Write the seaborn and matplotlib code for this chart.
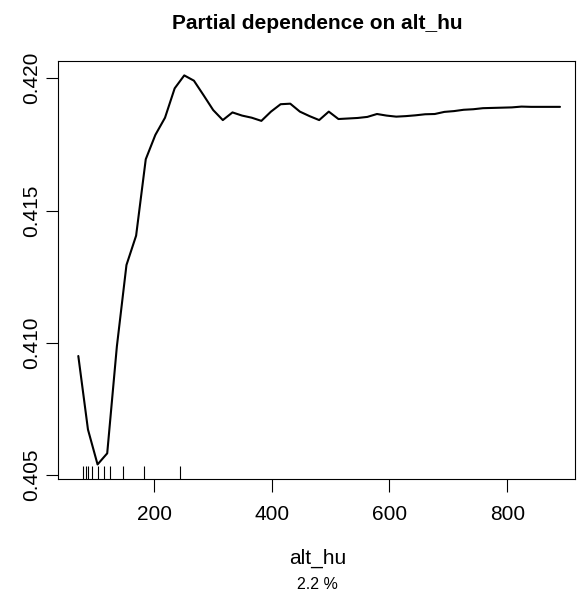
import matplotlib
matplotlib.use("Agg")
import matplotlib.pyplot as plt
import seaborn as sns
import pandas as pd

# ---- data ----
alt_hu = [71.4, 87.8, 104.1, 120.5, 136.9, 153.2, 169.6, 186.0, 202.3, 218.7,
          235.1, 251.4, 267.8, 284.2, 300.5, 316.9, 333.3, 349.6, 366.0, 382.4,
          398.7, 415.1, 431.5, 447.8, 464.2, 480.6, 496.9, 513.3, 529.7, 546.0,
          562.4, 578.8, 595.1, 611.5, 627.9, 644.2, 660.6, 677.0, 693.3, 709.7,
          726.1, 742.4, 758.8, 775.2, 791.5, 807.9, 824.3, 840.6, 857.0, 873.4,
          889.7]
partial_dep = [0.40950, 0.40672, 0.40540, 0.40582, 0.40986, 0.41294, 0.41405, 0.41694, 0.41786, 0.41851,
               0.41962, 0.42011, 0.41991, 0.41936, 0.41880, 0.41842, 0.41871, 0.41859, 0.41851, 0.41839,
               0.41874, 0.41902, 0.41904, 0.41874, 0.41857, 0.41842, 0.41874, 0.41846, 0.41848, 0.41850,
               0.41854, 0.41865, 0.41859, 0.41855, 0.41857, 0.41860, 0.41864, 0.41865, 0.41873, 0.41876,
               0.41881, 0.41883, 0.41887, 0.41888, 0.41889, 0.41890, 0.41893, 0.41892, 0.41892, 0.41892,
               0.41892]
rug_deciles = [80.2, 84.4, 87.8, 94.6, 104.8, 114.2, 125.2, 148.1, 183.5, 245.0]
x_ticks = [200, 400, 600, 800]
y_ticks = [0.405, 0.410, 0.415, 0.420]
y_tick_labels = ["0.405", "0.410", "0.415", "0.420"]
title = "Partial dependence on alt_hu"
x_label = "alt_hu"
subtitle = "2.2 %"

df = pd.DataFrame({"x": alt_hu, "y": partial_dep})

sns.set_style("white")
plt.rcParams["font.family"] = ["Liberation Sans", "DejaVu Sans"]
plt.rcParams["text.color"] = "black"

fig = plt.figure(figsize=(5.87, 5.95), dpi=100)
ax = fig.add_axes([58 / 587, 1 - 479 / 595, (575 - 58) / 587, (479 - 61) / 595])

sns.lineplot(data=df, x="x", y="y", color="black", linewidth=1.5,
             estimator=None, ax=ax)
sns.rugplot(x=rug_deciles, height=0.03, color="black", linewidth=0.8, ax=ax)

ax.set_xlim(36.9, 915.2)
ax.set_ylim(0.404849, 0.420654)
ax.set_xticks(x_ticks)
ax.set_xticklabels([str(t) for t in x_ticks])
ax.set_yticks(y_ticks)
ax.set_yticklabels(y_tick_labels, rotation=90, va="center")
ax.set_xlabel("")
ax.set_ylabel("")

for s in ax.spines.values():
    s.set_visible(True)
    s.set_color("black")
    s.set_linewidth(0.8)

ax.tick_params(axis="both", which="both", direction="out", length=9, width=0.8,
               color="black", labelsize=15, labelcolor="black",
               left=True, bottom=True, top=False, right=False)
ax.tick_params(axis="x", pad=10)
ax.tick_params(axis="y", pad=3)

cx = 317.5 / 587
fig.text(cx, 1 - 29.3 / 595, title, ha="center", va="baseline",
         fontsize=15, fontweight="bold", color="black")
fig.text(cx, 1 - 564 / 595, x_label, ha="center", va="baseline", fontsize=15,
         color="black")
fig.text(cx, 1 - 588.7 / 595, subtitle, ha="center", va="baseline", fontsize=11.5,
         color="black")

fig.savefig("out.png", dpi=100)
